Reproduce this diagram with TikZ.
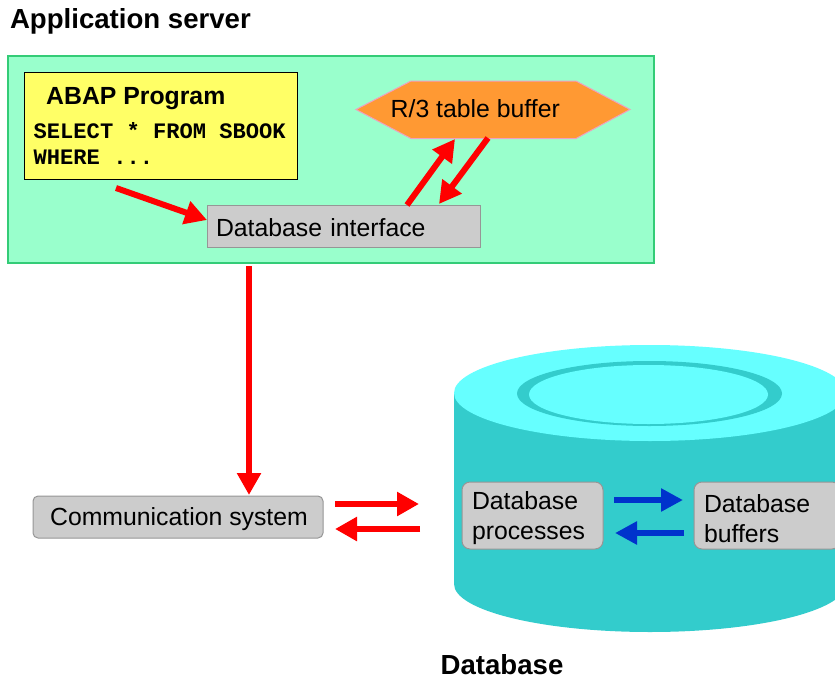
\documentclass[tikz,border=0pt]{standalone}
\usepackage{fontspec}
\setmainfont{Liberation Sans}
\setmonofont{Liberation Mono}
\usetikzlibrary{arrows.meta,calc}
\definecolor{panelfill}{HTML}{99FFCC}
\definecolor{paneledge}{HTML}{33CC77}
\definecolor{yellowfill}{HTML}{FFFF66}
\definecolor{orangefill}{HTML}{FF9933}
\definecolor{hexedge}{HTML}{F0A0C0}
\definecolor{greyfill}{HTML}{CCCCCC}
\definecolor{greyedge}{HTML}{969696}
\definecolor{cyldark}{HTML}{33CCCC}
\definecolor{cyllight}{HTML}{66FFFF}
\definecolor{arrowblue}{HTML}{0033CC}
\tikzset{
  box/.style={draw=greyedge,line width=1pt,fill=greyfill,inner sep=0pt,outer sep=0pt,anchor=north west},
  boxtext/.style={font=\fontsize{24.8}{30}\selectfont,text=black},
  redarrow/.style={draw=red,line width=6pt,-{Triangle[length=22pt,width=23pt]}},
  bluearrow/.style={draw=arrowblue,line width=6pt,-{Triangle[length=22pt,width=22pt]}},
  heading/.style={font=\fontsize{27.6}{32}\selectfont\bfseries,text=black,inner sep=0pt,outer sep=0pt},
}
\begin{document}
\begin{tikzpicture}[x=1pt,y=-1pt]
\path[use as bounding box,clip] (0,0) rectangle (835,677);
% headings
\node[heading,anchor=base west] (apptitle) at (10,28.5) {Application server};
\node[heading,anchor=base] (dbtitle) at (502,674) {Database};
% application server panel
\node[draw=paneledge,line width=1.1pt,fill=panelfill,anchor=north west,minimum width=646pt,minimum height=207pt,inner sep=0pt,outer sep=0pt] (panel) at (8,56) {};
% ABAP box
\node[draw=black,line width=1pt,fill=yellowfill,anchor=north west,minimum width=273pt,minimum height=106.5pt,inner sep=0pt,outer sep=0pt] (abap) at (24,73) {};
\node[font=\fontsize{24.8}{30}\selectfont\bfseries,anchor=base west,inner sep=0pt] (abaptitle) at (46,104) {ABAP Program};
\node[font=\fontsize{22.1}{26}\ttfamily\bfseries,anchor=base west,inner sep=0pt] (sel) at (33.5,138) {SELECT * FROM SBOOK};
\node[font=\fontsize{22.1}{26}\ttfamily\bfseries,anchor=base west,inner sep=0pt] (whr) at (33.5,164) {WHERE ...};
% hexagon
\coordinate (h1) at (356,109.5);
\coordinate (h2) at (411,81);
\coordinate (h3) at (576,81);
\coordinate (h4) at (630,109.5);
\coordinate (h5) at (576,138.5);
\coordinate (h6) at (411,138.5);
\draw[draw=hexedge,line width=1pt,fill=orangefill] (h1) -- (h2) -- (h3) -- (h4) -- (h5) -- (h6) -- cycle;
\node[boxtext,anchor=base west,inner sep=0pt] (hexlabel) at (390.5,117) {R/3 table buffer};
% database interface
\node[box,minimum width=273pt,minimum height=42pt,text width=255pt,text height=22pt,align=left,boxtext] (dbi) at (207,205) {Database interface};
% communication system
\node[box,rounded corners=5pt,minimum width=290pt,minimum height=42pt,text height=22pt,align=center,boxtext] (comm) at (33,496) {\hspace{2pt}Communication system};
% cylinder
\fill[cyldark] (454,393) -- (454,584) arc[start angle=180,end angle=0,x radius=196,y radius=48] -- (846,393) -- cycle;
\fill[cyllight] (650,393) ellipse[x radius=196,y radius=48];
\fill[cyldark] (649.5,393.5) ellipse[x radius=132.5,y radius=32.5];
\fill[cyllight] (648.5,394.5) ellipse[x radius=119.5,y radius=29.5];
% database boxes
\node[box,rounded corners=8pt,minimum width=141pt,minimum height=67pt,text width=121pt,text height=24pt,align=left,boxtext] (proc) at (462,482) {Database\\processes};
\node[box,rounded corners=8pt,minimum width=146pt,minimum height=67pt,text width=126pt,text height=24pt,align=left,boxtext] (buf) at (694,482) {Database\\buffers};
% free ends
\coordinate (a1s) at (116,188);
\coordinate (a1e) at (207,220);
\coordinate (a2s) at (407,205);
\coordinate (a2e) at (455,139);
\coordinate (a3s) at (488,138);
\coordinate (a3e) at (439,204);
\coordinate (a4s) at (249,266);
\coordinate (a4e) at (249,495);
\coordinate (a5s) at (335,504);
\coordinate (a5e) at (419,504);
\coordinate (a6s) at (420,529);
\coordinate (a6e) at (335,529);
\coordinate (b1s) at (614,500);
\coordinate (b1e) at (683,500);
\coordinate (b2s) at (684,533);
\coordinate (b2e) at (615,533);
\draw[redarrow] (a1s) -- (a1e);
\draw[redarrow] (a2s) -- (a2e);
\draw[redarrow] (a3s) -- (a3e);
\draw[redarrow] (a4s) -- (a4e);
\draw[redarrow] (a5s) -- (a5e);
\draw[redarrow] (a6s) -- (a6e);
\draw[bluearrow] (b1s) -- (b1e);
\draw[bluearrow] (b2s) -- (b2e);
\end{tikzpicture}
\end{document}
